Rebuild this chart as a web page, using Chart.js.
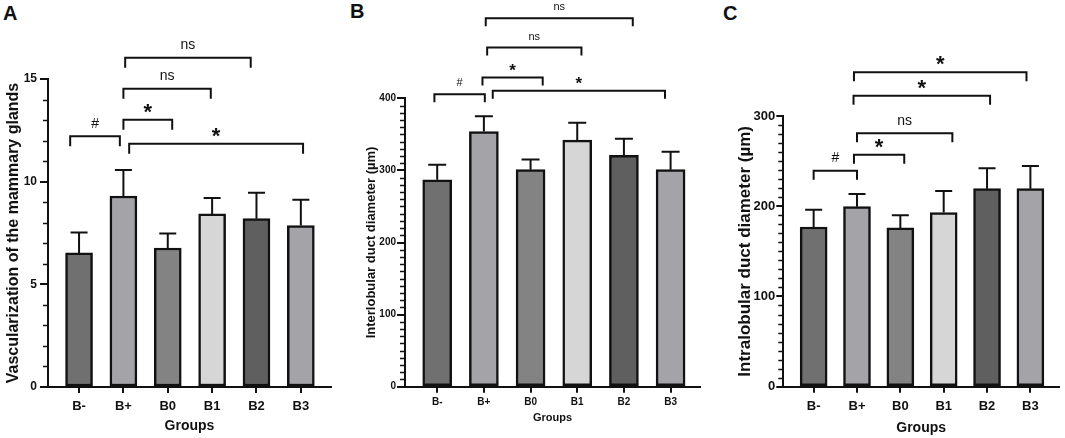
<!DOCTYPE html>
<html>
<head>
<meta charset="utf-8">
<script src="https://cdn.jsdelivr.net/npm/chart.js@4.4.1/dist/chart.umd.min.js"></script>
<style>
  body { margin: 0; background: #fff; width: 1065px; height: 438px; position: relative; overflow: hidden; font-family: "Liberation Sans", Arial, sans-serif; }
  canvas { position: absolute; top: 0; }
  .tag { position: absolute; font-weight: bold; font-size: 20px; color: #111; }
</style>
</head>
<body>
<div class="tag" style="left:3px;top:2px">A</div>
<div class="tag" style="left:350px;top:0px">B</div>
<div class="tag" style="left:723px;top:2px">C</div>
<canvas id="cA" width="340" height="438" style="left:0px"></canvas>
<canvas id="cB" width="362" height="438" style="left:340px"></canvas>
<canvas id="cC" width="365" height="438" style="left:700px"></canvas>
<script>
// groups on the x axis
const groups = ['B-', 'B+', 'B0', 'B1', 'B2', 'B3'];

// A: vascularization (mean / sd)
const vascMean = [6.53, 9.30, 6.77, 8.43, 8.20, 7.86];
const vascSd = [0.99, 1.27, 0.70, 0.77, 1.26, 1.26];

// B: interlobular duct diameter (um)
const interMean = [287, 354, 301, 342, 321, 301];
const interSd = [21, 21, 14, 24, 23, 25];

// C: intralobular duct diameter (um)
const intraMean = [177, 199.5, 176, 193, 219.5, 219.5];
const intraSd = [19, 14, 14, 24, 22.5, 25];

// significance marks: from/to group (index), bracket height in data units, label
const vascSig = [
  { from: -0.2, to: 0.92, at: 12.21, text: '#' },
  { from: 1.0, to: 2.1, at: 13.02, text: '*' },
  { from: 1.0, to: 2.97, at: 14.53, text: 'ns' },
  { from: 1.04, to: 3.87, at: 16.04, text: 'ns' },
  { from: 1.13, to: 5.05, at: 11.85, text: '*' }
];
const interSig = [
  { from: -0.06, to: 1.02, at: 405.5, text: '#' },
  { from: 0.97, to: 2.26, at: 428.7, text: '*' },
  { from: 1.19, to: 4.88, at: 410.6, text: '*' },
  { from: 1.07, to: 3.09, at: 470.3, text: 'ns' },
  { from: 1.04, to: 4.19, at: 511, text: 'ns' }
];
const intraSig = [
  { from: 0, to: 1.0, at: 239.4, text: '#' },
  { from: 0.93, to: 2.09, at: 257.1, text: '*' },
  { from: 1.0, to: 3.2, at: 280.8, text: 'ns' },
  { from: 0.92, to: 4.07, at: 322.5, text: '*' },
  { from: 0.93, to: 4.91, at: 348.4, text: '*' }
];

const barColors = ['#707070', '#a4a3a8', '#838383', '#d6d6d6', '#5f5f5f', '#a4a3a8'];
const ink = '#111';

// error bars, minor ticks and the comparison brackets
function extras(cfg) {
  return {
    id: 'extras',
    afterDatasetsDraw(chart) {
      const ctx = chart.ctx;
      const x = chart.scales.x, y = chart.scales.y;
      const left = chart.chartArea.left;
      ctx.save();
      ctx.strokeStyle = ink;
      ctx.fillStyle = ink;
      ctx.lineWidth = 2;
      // error bars (upper only)
      cfg.mean.forEach((m, i) => {
        const px = x.getPixelForValue(i);
        const top = y.getPixelForValue(m);
        const up = y.getPixelForValue(m + cfg.sd[i]);
        ctx.beginPath();
        ctx.moveTo(px, top);
        ctx.lineTo(px, up);
        ctx.moveTo(px - cfg.cap / 2, up);
        ctx.lineTo(px + cfg.cap / 2, up);
        ctx.stroke();
      });
      // minor ticks
      ctx.lineWidth = 1.5;
      for (let v = 0; v <= cfg.yMax; v += cfg.minor) {
        if (v % cfg.yStep === 0) continue;
        const py = Math.round(y.getPixelForValue(v)) + 0.5;
        ctx.beginPath();
        ctx.moveTo(left - cfg.minorLen, py);
        ctx.lineTo(left, py);
        ctx.stroke();
      }
      // brackets
      ctx.lineWidth = 2;
      ctx.textAlign = 'center';
      ctx.textBaseline = 'middle';
      cfg.sig.forEach((s) => {
        const x1 = x.getPixelForValue(s.from), x2 = x.getPixelForValue(s.to);
        const yl = y.getPixelForValue(s.at);
        const d = s.drop || cfg.drop;
        ctx.beginPath();
        ctx.moveTo(x1, yl + d);
        ctx.lineTo(x1, yl);
        ctx.lineTo(x2, yl);
        ctx.lineTo(x2, yl + d);
        ctx.stroke();
        const cx = (x1 + x2) / 2;
        if (s.text === '*') {
          ctx.font = 'bold ' + cfg.starSize + 'px "Liberation Sans", Arial, sans-serif';
          ctx.fillText('*', cx, yl - cfg.labelOff + cfg.starSize * 0.25);
        } else {
          ctx.font = cfg.markSize + 'px "Liberation Sans", Arial, sans-serif';
          ctx.fillText(s.text, cx, yl - cfg.labelOff);
        }
      });
      ctx.restore();
    }
  };
}

function panel(id, cfg) {
  return new Chart(document.getElementById(id), {
    type: 'bar',
    data: {
      datasets: [{
        data: cfg.mean.map((v, i) => ({ x: i, y: v })),
        backgroundColor: barColors,
        borderColor: ink,
        borderWidth: 2.5,
        borderSkipped: false,
        barThickness: cfg.barW
      }]
    },
    options: {
      responsive: false,
      animation: false,
      devicePixelRatio: 1,
      layout: { padding: { left: 0, right: cfg.padR, top: cfg.padT, bottom: cfg.padB } },
      plugins: { legend: { display: false }, tooltip: { enabled: false } },
      scales: {
        x: {
          type: 'linear',
          min: cfg.xMin,
          max: cfg.xMax,
          offset: false,
          afterBuildTicks: (s) => { s.ticks = groups.map((g, i) => ({ value: i })); },
          afterFit: (s) => { s.height = cfg.xH; },
          ticks: {
            callback: (v) => groups[v],
            color: ink,
            autoSkip: false,
            maxRotation: 0,
            padding: cfg.xPad,
            font: { size: cfg.xFont, weight: 'bold' }
          },
          grid: { drawOnChartArea: false, offset: false, color: ink, lineWidth: 2, tickLength: 6 },
          border: { color: ink, width: 2 },
          title: {
            display: true,
            text: 'Groups',
            color: ink,
            font: { size: cfg.gFont, weight: 'bold' },
            padding: { top: 0, bottom: cfg.gPadB }
          }
        },
        y: {
          min: 0,
          max: cfg.yMax,
          afterFit: (s) => { s.width = cfg.yW; },
          ticks: {
            stepSize: cfg.yStep,
            color: ink,
            padding: cfg.yPad,
            font: { size: cfg.yFont, weight: 'bold' }
          },
          grid: { drawOnChartArea: false, color: ink, lineWidth: 2, tickLength: cfg.tickLen },
          border: { color: ink, width: 2 },
          title: {
            display: true,
            text: cfg.yTitle,
            color: ink,
            font: { size: cfg.tFont, weight: 'bold' },
            padding: { top: cfg.tPad, bottom: 0 }
          }
        }
      }
    },
    plugins: [extras(cfg)]
  });
}

Chart.defaults.font.family = '"Liberation Sans", Arial, sans-serif';

panel('cA', {
  mean: vascMean, sd: vascSd, sig: vascSig,
  yMax: 15, yStep: 5, minor: 1, yTitle: 'Vascularization of the mammary glands',
  xMin: -0.70, xMax: 5.68, barW: 27, cap: 17,
  padT: 79, padR: 9, padB: 3.6, xH: 47.4, yW: 48,
  xFont: 13, xPad: 6, gFont: 14, gPadB: 0,
  yFont: 12, yPad: 3, tickLen: 8, minorLen: 5,
  tFont: 16, tPad: 4.4,
  drop: 10, labelOff: 12.5, starSize: 22, markSize: 14
});

panel('cB', {
  mean: interMean, sd: interSd, sig: interSig,
  yMax: 400, yStep: 100, minor: 10, yTitle: 'Interlobular duct diameter (µm)',
  xMin: -0.69, xMax: 5.63, barW: 29, cap: 18,
  padT: 98.3, padR: 2, padB: 13, xH: 38.3, yW: 65,
  xFont: 10, xPad: 4, gFont: 11, gPadB: 0,
  yFont: 10, yPad: 1, tickLen: 8, minorLen: 5,
  tFont: 13, tPad: 23.9,
  drop: 8, labelOff: 11, starSize: 17, markSize: 11
});

panel('cC', {
  mean: intraMean, sd: intraSd, sig: intraSig,
  yMax: 300, yStep: 100, minor: 10, yTitle: 'Intralobular duct diameter (µm)',
  xMin: -0.70, xMax: 5.66, barW: 27, cap: 17,
  padT: 116, padR: 6, padB: 1.9, xH: 49.4, yW: 83.3,
  xFont: 13, xPad: 6, gFont: 14, gPadB: 0,
  yFont: 13, yPad: 1, tickLen: 7, minorLen: 5,
  tFont: 17, tPad: 34.8,
  drop: 9, labelOff: 12.5, starSize: 22, markSize: 14
});
</script>
</body>
</html>
